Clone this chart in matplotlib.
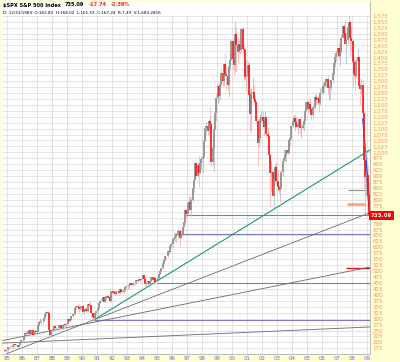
import matplotlib
matplotlib.use('Agg')
import matplotlib.pyplot as plt
import numpy as np
import pandas as pd

# monthly S&P 500 bars, Oct 1984 .. Feb 2009
first_month = '1984-10'
first_open = 166.1
closes = [
    166.1, 163.6, 167.2,
    179.6, 181.2, 180.7, 179.8, 189.6, 191.9, 190.9, 188.6, 182.1, 189.8, 202.2, 211.3,
    211.8, 226.9, 238.9, 235.5, 247.4, 250.8, 236.1, 252.9, 231.3, 244.0, 249.2, 242.2,
    274.1, 284.2, 291.7, 288.4, 290.1, 304.0, 318.7, 329.8, 321.8, 251.8, 230.3, 247.1,
    257.1, 267.8, 258.9, 261.3, 262.2, 273.5, 272.0, 261.5, 271.9, 279.0, 273.7, 277.7,
    297.5, 288.9, 294.9, 309.6, 320.5, 318.0, 346.1, 351.5, 349.2, 340.4, 346.0, 353.4,
    329.1, 331.9, 339.9, 330.8, 361.2, 358.0, 356.2, 322.6, 306.1, 304.0, 322.2, 330.2,
    343.9, 367.1, 375.2, 375.3, 389.8, 371.2, 387.8, 395.4, 387.9, 392.5, 375.2, 417.1,
    408.8, 412.7, 403.7, 415.0, 415.4, 408.1, 424.2, 414.0, 417.8, 418.7, 431.4, 435.7,
    438.8, 443.4, 451.7, 440.2, 450.2, 450.5, 448.1, 463.6, 458.9, 467.8, 461.8, 466.4,
    481.6, 467.1, 445.8, 450.9, 456.5, 444.3, 458.3, 475.5, 462.7, 472.4, 453.7, 459.3,
    470.4, 487.4, 500.7, 514.7, 533.4, 544.8, 562.1, 561.9, 584.4, 581.5, 605.4, 615.9,
    636.0, 640.4, 645.5, 654.2, 669.1, 670.6, 640.0, 652.0, 687.3, 705.3, 757.0, 740.7,
    786.2, 790.8, 757.1, 801.3, 848.3, 885.1, 954.3, 899.5, 947.3, 914.6, 955.4, 970.4,
    980.3, 1049.3, 1101.8, 1111.8, 1090.8, 1133.8, 1120.7, 957.3, 1017.0, 1098.7, 1163.6, 1229.2,
    1279.6, 1238.3, 1286.4, 1335.2, 1301.8, 1372.7, 1328.7, 1320.4, 1282.7, 1362.9, 1389.0, 1469.3,
    1394.5, 1366.4, 1498.6, 1452.4, 1420.6, 1454.6, 1430.8, 1517.7, 1436.5, 1429.4, 1315.2, 1320.3,
    1366.0, 1239.9, 1160.3, 1249.5, 1255.8, 1224.4, 1211.2, 1133.6, 1040.9, 1059.8, 1139.5, 1148.1,
    1130.2, 1106.7, 1147.4, 1076.9, 1067.1, 989.8, 911.6, 916.1, 815.3, 885.8, 936.3, 879.8,
    855.7, 841.2, 848.2, 916.9, 963.6, 974.5, 990.3, 1008.0, 996.0, 1050.7, 1058.2, 1111.9,
    1131.1, 1144.9, 1126.2, 1107.3, 1120.7, 1140.8, 1101.7, 1104.2, 1114.6, 1130.2, 1173.8, 1211.9,
    1181.3, 1203.6, 1180.6, 1156.9, 1191.5, 1191.3, 1234.2, 1220.3, 1228.8, 1207.0, 1249.5, 1248.3,
    1280.1, 1280.7, 1294.8, 1310.6, 1270.1, 1270.2, 1276.7, 1303.8, 1335.9, 1377.9, 1400.6, 1418.3,
    1438.2, 1406.8, 1420.9, 1482.4, 1530.6, 1503.4, 1455.3, 1474.0, 1526.8, 1549.4, 1481.1, 1468.4,
    1378.6, 1330.6, 1322.7, 1385.6, 1400.4, 1280.0, 1267.4, 1282.8, 1166.4, 968.8, 896.2, 903.3,
    825.9, 735.1,
]
highs = [
    169.6, 170.4, 168.0,
    180.3, 183.9, 184.0, 183.6, 190.0, 192.6, 196.0, 193.0, 189.0, 190.6, 203.0, 212.0,
    214.5, 227.1, 240.7, 244.7, 249.2, 251.8, 253.0, 254.9, 254.1, 244.5, 254.9, 254.0,
    275.0, 285.5, 301.9, 297.0, 296.0, 309.3, 319.3, 337.9, 328.3, 328.0, 255.8, 249.2,
    257.4, 268.4, 271.0, 263.1, 263.1, 274.0, 275.0, 272.0, 272.4, 283.7, 279.5, 279.6,
    297.5, 300.0, 297.0, 311.0, 322.0, 328.0, 346.1, 354.0, 351.0, 360.0, 346.4, 354.0,
    360.6, 335.0, 344.5, 347.0, 362.0, 368.0, 369.8, 356.0, 326.0, 314.0, 324.0, 332.0,
    344.0, 371.0, 380.0, 385.0, 391.0, 392.0, 389.0, 396.0, 396.0, 394.0, 398.0, 418.0,
    420.8, 415.0, 413.0, 417.0, 420.0, 417.0, 425.0, 425.0, 423.0, 419.0, 431.5, 441.3,
    442.5, 449.0, 456.0, 453.0, 454.0, 452.0, 451.0, 464.0, 464.0, 470.0, 468.0, 471.0,
    482.9, 482.0, 469.0, 453.0, 458.0, 460.0, 459.0, 476.0, 476.0, 474.0, 473.0, 466.0,
    473.0, 488.0, 503.0, 515.0, 534.0, 556.0, 563.0, 565.0, 586.0, 587.0, 607.0, 622.0,
    638.0, 664.0, 661.0, 659.0, 681.0, 673.0, 672.0, 673.0, 690.0, 714.0, 758.0, 762.0,
    794.0, 818.0, 815.0, 812.0, 851.0, 899.0, 961.0, 960.0, 960.0, 983.0, 964.0, 986.0,
    992.0, 1050.0, 1106.0, 1131.0, 1122.0, 1139.0, 1190.0, 1121.0, 1066.0, 1112.0, 1193.0, 1245.0,
    1280.0, 1281.0, 1316.0, 1346.0, 1368.0, 1373.0, 1420.0, 1360.0, 1358.0, 1365.0, 1397.0, 1474.0,
    1478.0, 1445.0, 1553.0, 1527.0, 1481.0, 1474.0, 1518.0, 1525.0, 1530.0, 1454.0, 1438.0, 1389.0,
    1383.0, 1376.0, 1268.0, 1269.0, 1316.0, 1287.0, 1240.0, 1218.0, 1137.0, 1110.0, 1163.0, 1173.0,
    1176.0, 1131.0, 1173.0, 1147.0, 1107.0, 1070.0, 994.0, 965.0, 925.0, 908.0, 954.0, 954.0,
    935.0, 864.0, 896.0, 924.0, 965.0, 1015.0, 1015.0, 1011.0, 1040.0, 1054.0, 1063.0, 1112.0,
    1155.0, 1159.0, 1163.0, 1150.0, 1128.0, 1146.0, 1141.0, 1109.0, 1132.0, 1142.0, 1188.0, 1217.0,
    1217.0, 1212.0, 1229.0, 1192.0, 1199.0, 1219.0, 1246.0, 1245.0, 1237.0, 1233.0, 1270.0, 1276.0,
    1295.0, 1297.0, 1310.0, 1318.0, 1326.0, 1284.0, 1281.0, 1306.0, 1340.0, 1389.0, 1407.0, 1431.0,
    1441.0, 1461.0, 1438.0, 1498.0, 1530.0, 1540.0, 1556.0, 1504.0, 1539.0, 1576.0, 1545.0, 1524.0,
    1471.0, 1396.0, 1359.0, 1397.0, 1440.0, 1405.0, 1292.0, 1314.0, 1304.0, 1167.0, 1007.0, 919.0,
    943.9, 877.0,
]
lows = [
    160.4, 161.9, 161.5,
    163.4, 177.1, 176.5, 177.4, 178.4, 185.9, 188.9, 184.8, 180.6, 181.3, 188.6, 200.7,
    203.5, 208.4, 222.4, 232.2, 233.9, 239.1, 233.0, 233.6, 228.7, 230.7, 240.9, 240.0,
    242.2, 269.9, 283.6, 278.2, 278.8, 288.7, 302.0, 315.4, 308.6, 216.5, 223.9, 222.0,
    242.6, 255.6, 256.1, 253.8, 250.8, 261.0, 263.3, 256.0, 257.5, 271.1, 265.0, 266.0,
    274.6, 287.0, 284.0, 293.0, 307.0, 315.0, 316.0, 338.0, 342.0, 325.0, 335.0, 337.0,
    322.0, 321.5, 331.0, 327.5, 330.0, 352.5, 345.0, 307.0, 294.5, 295.0, 302.0, 321.0,
    309.0, 342.0, 364.0, 369.0, 373.0, 368.0, 372.0, 377.0, 383.0, 378.0, 370.0, 371.0,
    404.0, 406.0, 401.0, 399.0, 410.0, 401.0, 403.0, 410.0, 409.0, 407.0, 416.0, 426.0,
    425.0, 426.0, 440.0, 437.0, 436.0, 441.0, 442.0, 447.0, 450.0, 457.0, 454.0, 460.0,
    465.0, 465.0, 436.0, 435.0, 443.0, 441.0, 443.0, 457.0, 460.0, 460.0, 450.0, 454.0,
    458.0, 470.0, 483.0, 499.0, 511.0, 532.0, 541.0, 555.0, 559.0, 571.0, 580.0, 597.0,
    597.0, 633.0, 627.0, 621.0, 636.0, 662.0, 601.0, 638.0, 649.0, 684.0, 703.0, 722.0,
    737.0, 773.0, 756.0, 733.0, 793.0, 834.0, 884.0, 899.0, 899.0, 855.0, 912.0, 924.0,
    912.0, 980.0, 1047.0, 1076.0, 1074.0, 1075.0, 1114.0, 940.0, 948.0, 923.0, 1095.0, 1130.0,
    1205.0, 1212.0, 1226.0, 1283.0, 1281.0, 1281.0, 1329.0, 1265.0, 1263.0, 1233.0, 1348.0, 1387.0,
    1350.0, 1326.0, 1339.0, 1339.0, 1374.0, 1420.0, 1415.0, 1422.0, 1420.0, 1306.0, 1307.0, 1254.0,
    1274.0, 1229.0, 1081.0, 1091.0, 1234.0, 1204.0, 1183.0, 1129.0, 944.0, 1026.0, 1054.0, 1124.0,
    1101.0, 1075.0, 1104.0, 1063.0, 1049.0, 952.0, 776.0, 837.0, 815.0, 768.0, 868.0, 872.0,
    840.0, 827.0, 789.0, 847.0, 902.0, 963.0, 962.0, 960.0, 990.0, 996.0, 1031.0, 1053.0,
    1105.0, 1124.0, 1088.0, 1106.0, 1076.0, 1113.0, 1078.0, 1060.0, 1099.0, 1090.0, 1127.0, 1173.0,
    1164.0, 1173.0, 1176.0, 1137.0, 1146.0, 1188.0, 1183.0, 1201.0, 1201.0, 1169.0, 1201.0, 1246.0,
    1245.0, 1253.0, 1277.0, 1280.0, 1245.0, 1219.0, 1224.0, 1261.0, 1290.0, 1327.0, 1360.0, 1385.0,
    1403.0, 1389.0, 1364.0, 1416.0, 1484.0, 1484.0, 1455.0, 1371.0, 1455.0, 1490.0, 1407.0, 1435.0,
    1270.0, 1317.0, 1257.0, 1312.0, 1374.0, 1272.0, 1200.0, 1247.0, 1107.0, 840.0, 741.0, 816.0,
    804.0, 735.0,
]

last_price = 735.09
header_parts = [('$SPX S&P 500 Index', 'black'), ('735.09', 'black'),
                ('-17.74', '#ff2020'), ('-2.36%', '#ff2020')]
header_line2 = 'D: 12/31/1984  O:162.82  H:168.02  L:161.53  C:167.24  R:7.49  V:1,683.2816'

# trend lines: (start year, start price, end year, end price, colour, width)
trend_lines = [
    (1984.7, 197, 2009.2, 265, '#6a6a6a', 0.6),
    (1984.7, 208, 2009.2, 517, '#6a6a6a', 0.6),
    (1985.0, 153, 2009.2, 746, '#6a6a6a', 0.6),
    (1990.8, 295, 2009.2, 1010, '#1a9a6a', 0.8),
    (2008.72, 1140, 2009.12, 830, '#2040e0', 0.9),
    (2008.80, 1000, 2009.15, 760, '#2040e0', 0.9),
]
# horizontal levels: (price, start year, end year, colour, width)
levels = [
    (295, 1990.8, 2009.2, '#7b7bc0', 0.8),
    (450, 1995.0, 2009.2, '#7b7bc0', 0.8),
    (656, 1996.2, 2009.2, '#7b7bc0', 0.8),
    (736, 1996.9, 2009.2, '#7b7bc0', 0.8),
    (512, 2007.6, 2009.2, '#e01010', 1.0),
    (782, 2007.67, 2008.87, '#ffa060', 1.8),
    (841, 2007.73, 2008.87, '#909090', 0.8),
]

assert len(closes) == len(highs) == len(lows)
months = pd.period_range(first_month, periods=len(closes), freq='M')
xs = months.year + (months.month - 0.5) / 12
opens = [first_open] + closes[:-1]

x0, x1 = 1984.667, 2009.2
y0, y1 = 151.2, 1632.7

fig = plt.figure(figsize=(4, 3.62), dpi=100, facecolor='#ffffd2')
ax = fig.add_axes([2 / 400, 8 / 362, 368 / 400, 352 / 362])
ax.set_facecolor('white')
ax.set_xlim(x0, x1)
ax.set_ylim(y0, y1)

# grid
ax.hlines(np.arange(175, 1576, 25), x0, x1, color='#d8d8d8', lw=0.5, zorder=0)
ax.vlines(range(1985, 2010), y0, 1580, color='#d8d8d8', lw=0.5, zorder=0)

for p, a, b, c, w in levels:
    ax.plot([a, b], [p, p], color=c, lw=w, zorder=2, solid_capstyle='butt')
for a, pa, b, pb, c, w in trend_lines:
    ax.plot([a, b], [pa, pb], color=c, lw=w, zorder=2)

# candles
for x, o, h, l, c in zip(xs, opens, highs, lows, closes):
    down = c < o
    wick = '#ffa8a8' if down else '#b4b4b4'
    body = '#ff1010' if down else '#8c8c8c'
    ax.vlines(x, l, h, color=wick, lw=0.5, zorder=3)
    ax.vlines(x, min(o, c), max(o, c), color=body, lw=1.2, zorder=4)

ax.spines['top'].set_visible(False)
ax.spines['left'].set_visible(False)
ax.spines['right'].set_color('#b0b0b0')
ax.spines['bottom'].set_color('#b0b0b0')
ax.spines['right'].set_linewidth(0.6)
ax.spines['bottom'].set_linewidth(0.6)

# labels hidden behind the price box are left out
yt = [v for v in range(175, 1576, 25) if v not in (725, 750)]
ax.yaxis.tick_right()
ax.set_yticks(yt)
ax.set_yticklabels([f'{v:,}' for v in yt])
ax.tick_params(axis='y', length=0, pad=2, labelsize=4, labelcolor='#ff8c69')
years = list(range(1985, 2010))
ax.set_xticks(years)
ax.set_xticklabels([f'{y % 100:02d}' for y in years])
ax.tick_params(axis='x', length=0, pad=1.2, labelsize=4, labelcolor='#6a6ae0')

ax.text(1.002, last_price, f'{last_price:.2f}', transform=ax.get_yaxis_transform(),
        ha='left', va='center', fontsize=4, color='white', fontweight='bold',
        bbox=dict(boxstyle='square,pad=0.35', fc='#ff0000', ec='none'), zorder=6, clip_on=False)

# header, parts placed one after another
renderer = fig.canvas.get_renderer()
hx = 3
for txt, col in header_parts:
    t = fig.text(hx / 400, 1 - 5 / 362, txt, fontsize=3.6, fontweight='bold',
                 color=col, va='center')
    hx += t.get_window_extent(renderer).width + 4
fig.text(3 / 400, 1 - 12.7 / 362, header_line2, fontsize=3.0, va='center')

fig.savefig('out.png', dpi=100, facecolor=fig.get_facecolor())
